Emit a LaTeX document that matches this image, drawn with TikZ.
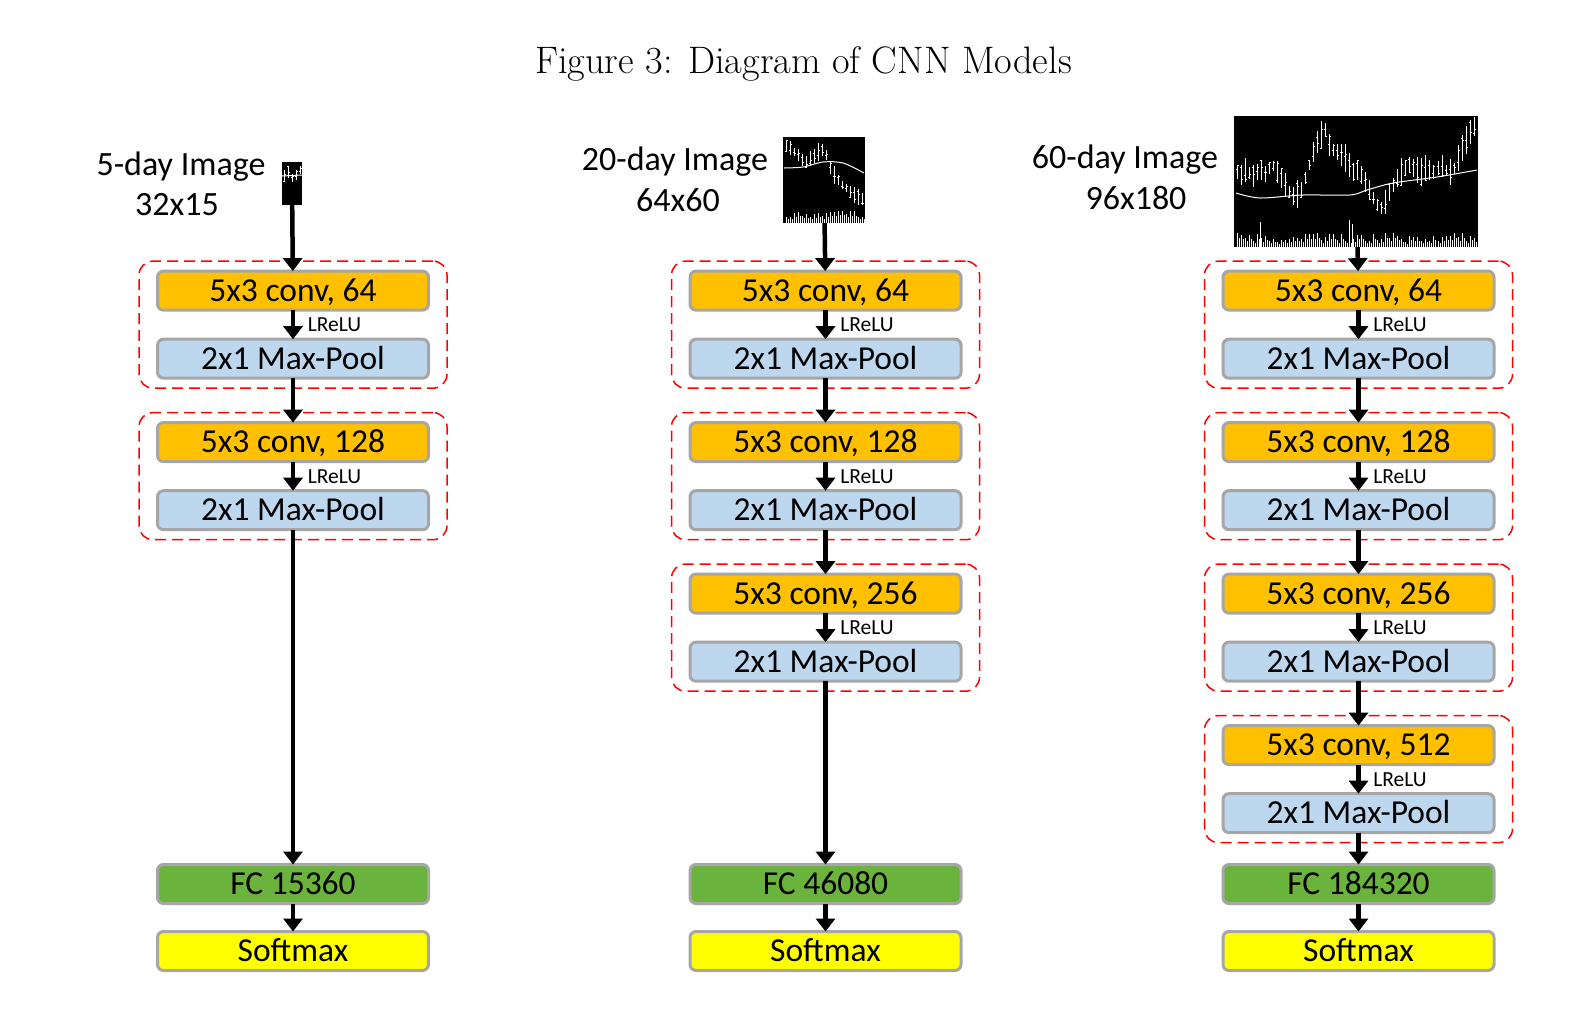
\documentclass[tikz,border=0pt]{standalone}
\usepackage{fontspec}
\newfontfamily\calib{Carlito}
\usetikzlibrary{arrows.meta,fit}
\definecolor{convc}{HTML}{FFC000}
\definecolor{poolc}{HTML}{BDD7EE}
\definecolor{fcc}{HTML}{6AB33C}
\definecolor{smc}{HTML}{FFFF00}
\definecolor{brd}{HTML}{A6A6A6}
\tikzset{
  layer/.style={draw=brd, line width=3pt, rounded corners=6pt, minimum width=271pt, minimum height=39pt,
    inner sep=0pt, outer sep=0pt, text height=21.5pt, text depth=0pt, font=\calib\fontsize{33.5}{37}\selectfont},
  convbox/.style={layer, fill=convc},
  poolbox/.style={layer, fill=poolc},
  fcbox/.style={layer, fill=fcc},
  smbox/.style={layer, fill=smc},
  grpbox/.style={draw=red, dashed, dash pattern=on 11pt off 6pt, line width=1.5pt, rounded corners=14pt,
    inner xsep=18.5pt, inner ysep=10pt},
  flow/.style={line width=4.5pt, -{Triangle[length=13pt,width=19pt]}},
  lrelu/.style={midway, anchor=west, xshift=12.5pt, inner sep=0pt, text height=14pt, text depth=0pt,
    font=\calib\fontsize{21.5}{25}\selectfont},
  imglab/.style={anchor=base, inner sep=0pt, font=\calib\fontsize{34}{38}\selectfont},
  imgbox/.style={fill=black, inner sep=0pt, outer sep=0pt},
  chart/.style={white, line width=1pt},
}
\newcommand{\cnnblock}[4]{%
  \pgfmathsetmacro{\yc}{290.6+151.5*#3}%
  \pgfmathsetmacro{\yp}{358.7+151.5*#3}%
  \node[convbox] (#1c#3) at (#2,\yc) {5x3 conv, #4};
  \node[poolbox] (#1p#3) at (#2,\yp) {2x1 Max-Pool};
  \node[grpbox, fit=(#1c#3)(#1p#3)] (#1g#3) {};
  \draw[flow] (#1c#3) -- (#1p#3) node[lrelu] {LReLU};
}
\begin{document}
\begin{tikzpicture}[x=1pt,y=-1pt]
\useasboundingbox[fill=white] (0,0) rectangle (1595,1013);

% title
\node[anchor=base, inner sep=0pt, font=\fontsize{38.3}{42}\selectfont] (title) at (803.5,73) {Figure 3: Diagram of CNN Models};

% ---------- column 1 ----------
\node[imglab] (alab1) at (181,175) {5-day Image};
\node[imglab] (alab2) at (177,215) {32x15};
\node[imgbox, minimum width=20pt, minimum height=43pt] (aimg) at (292,183.5) {};
\pgfmathsetseed{11}
\begin{scope}[chart]
\foreach \m [count=\i from 0] in {176,172,178,175,170} {
  \pgfmathsetmacro{\xx}{284+4*\i}
  \pgfmathsetmacro{\hh}{3+4*rnd}
  \pgfmathsetmacro{\op}{\m+(2*rnd-1)*\hh}
  \pgfmathsetmacro{\cl}{\m+(2*rnd-1)*\hh}
  \draw (\xx,\m-\hh) -- (\xx,\m+\hh);
  \draw (\xx-1.5,\op) -- (\xx,\op);
  \draw (\xx,\cl) -- (\xx+1.5,\cl);
}
\draw (282,176) -- (302,175);
\end{scope}

\cnnblock{a}{293}{0}{64}
\cnnblock{a}{293}{1}{128}
\node[fcbox] (afc) at (293,884) {FC 15360};
\node[smbox] (asm) at (293,951) {Softmax};
\draw[flow] (aimg) -- (ac0);
\draw[flow] (ap0) -- (ac1);
\draw[flow] (ap1) -- (afc);
\draw[flow] (afc) -- (asm);

% ---------- column 2 ----------
\node[imglab] (blab1) at (675,170) {20-day Image};
\node[imglab] (blab2) at (678,211) {64x60};
\node[imgbox, minimum width=82pt, minimum height=86pt] (bimg) at (824,180) {};
\pgfmathsetseed{5}
\begin{scope}[chart]
\foreach \m [count=\i from 0] in {146,148,152,155,160,162,158,156,152,150,155,168,175,180,185,188,192,195,197,199} {
  \pgfmathsetmacro{\xx}{786+4*\i}
  \pgfmathsetmacro{\hh}{4+5*rnd}
  \pgfmathsetmacro{\op}{\m+(2*rnd-1)*\hh}
  \pgfmathsetmacro{\cl}{\m+(2*rnd-1)*\hh}
  \pgfmathsetmacro{\vv}{5+7*rnd}
  \draw (\xx,{max(\m-\hh,138)}) -- (\xx,\m+\hh);
  \draw (\xx-1.5,\op) -- (\xx,\op);
  \draw (\xx,\cl) -- (\xx+1.5,\cl);
  \draw (\xx,222.5) -- (\xx,222.5-\vv);
  \draw (\xx+2,222.5) -- (\xx+2,222.5-\vv*0.6);
}
\draw plot[smooth] coordinates {(784,168) (803,167) (823,162) (843,163) (864,173)};
\end{scope}

\cnnblock{b}{825.5}{0}{64}
\cnnblock{b}{825.5}{1}{128}
\cnnblock{b}{825.5}{2}{256}
\node[fcbox] (bfc) at (825.5,884) {FC 46080};
\node[smbox] (bsm) at (825.5,951) {Softmax};
\draw[flow] (bimg) -- (bc0);
\draw[flow] (bp0) -- (bc1);
\draw[flow] (bp1) -- (bc2);
\draw[flow] (bp2) -- (bfc);
\draw[flow] (bfc) -- (bsm);

% ---------- column 3 ----------
\node[imglab] (clab1) at (1125,168) {60-day Image};
\node[imglab] (clab2) at (1136,209) {96x180};
\node[imgbox, minimum width=244pt, minimum height=131pt] (cimg) at (1356,181.5) {};
\pgfmathsetseed{42}
\begin{scope}[chart]
\foreach \m [count=\i from 0] in {172,175,170,173,176,172,170,174,168,166,172,178,185,192,196,194,190,178,165,152,142,135,130,145,150,152,155,158,165,172,170,175,182,190,198,205,208,202,192,185,178,172,168,165,168,170,172,168,170,172,168,166,170,172,168,158,148,140,132,125} {
  \pgfmathsetmacro{\xx}{1237+4.02*\i}
  \pgfmathsetmacro{\hh}{5+9*rnd}
  \pgfmathsetmacro{\op}{\m+(2*rnd-1)*\hh}
  \pgfmathsetmacro{\cl}{\m+(2*rnd-1)*\hh}
  \pgfmathsetmacro{\vv}{4+10*rnd}
  \draw (\xx,{max(\m-\hh,117)}) -- (\xx,\m+\hh);
  \draw (\xx-1.5,\op) -- (\xx,\op);
  \draw (\xx,\cl) -- (\xx+1.5,\cl);
  \draw (\xx,246.5) -- (\xx,246.5-\vv);
  \draw (\xx+2,246.5) -- (\xx+2,246.5-\vv*0.6);
}
\draw (1260,246.5) -- (1260,222);
\draw (1349,246.5) -- (1349,220);
\draw (1352,246.5) -- (1352,224);
\draw plot[smooth] coordinates {(1236,193) (1260,198) (1303,195) (1350,195) (1367,190) (1393,183) (1437,177) (1477,170)};
\end{scope}

\cnnblock{c}{1358.5}{0}{64}
\cnnblock{c}{1358.5}{1}{128}
\cnnblock{c}{1358.5}{2}{256}
\cnnblock{c}{1358.5}{3}{512}
\node[fcbox] (cfc) at (1358.5,884) {FC 184320};
\node[smbox] (csm) at (1358.5,951) {Softmax};
\draw[flow] (cimg) -- (cc0);
\draw[flow] (cp0) -- (cc1);
\draw[flow] (cp1) -- (cc2);
\draw[flow] (cp2) -- (cc3);
\draw[flow] (cp3) -- (cfc);
\draw[flow] (cfc) -- (csm);
\end{tikzpicture}
\end{document}
